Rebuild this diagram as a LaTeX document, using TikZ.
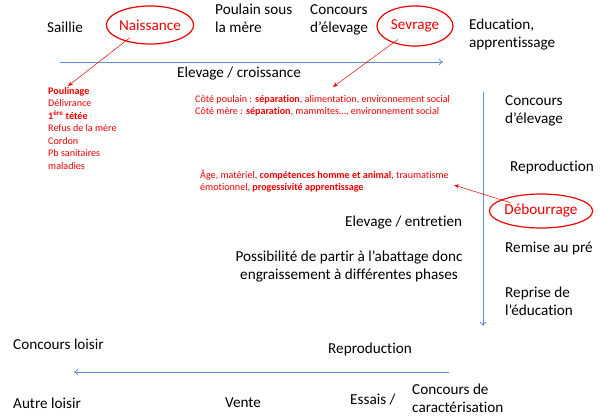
\documentclass[tikz,border=0pt]{standalone}
\usepackage{fontspec}
\setmainfont[Ligatures=NoCommon]{Carlito}
\usetikzlibrary{arrows.meta,shapes.geometric}
\definecolor{lblue}{RGB}{91,145,210}
\definecolor{myred}{RGB}{240,0,0}
\tikzset{
  txt/.style={font=\fontsize{15.2}{18}\selectfont, inner sep=0pt, anchor=west, align=left},
  rtxt/.style={font=\fontsize{10.1}{12.5}\selectfont, text=myred, inner sep=0pt, anchor=west, align=left},
  stage/.style={ellipse, draw=myred, line width=1.2pt, text=myred, font=\fontsize{15.2}{18}\selectfont, inner sep=0pt},
  redarrow/.style={draw=myred, line width=0.5pt, -{Stealth[length=5pt,width=4pt]}},
  bluearrow/.style={draw=lblue, line width=0.8pt, -{To[length=4pt,width=6pt]}}
}
\begin{document}
\begin{tikzpicture}[x=1pt,y=-1pt]
\useasboundingbox (0,0) rectangle (601,417);
% top row
\node[txt] (saillie) at (47,27) {Saillie};
\node[stage, minimum width=76pt, minimum height=38pt] (naissance) at (150,25) {Naissance};
\node[txt, anchor=north west] (poulain) at (215,4) {Poulain sous\\la mère};
\node[txt, anchor=north west] (concelev1) at (310,4) {Concours\\d’élevage};
\node[stage, minimum width=76pt, minimum height=40pt] (sevrage) at (415,26) {Sevrage};
\node[txt, anchor=north west] (educ) at (469,19) {Education,\\apprentissage};
% top blue arrow
\coordinate (h1s) at (60,62);
\coordinate (h1e) at (443,62);
\draw[bluearrow] (h1s) -- (h1e);
\node[txt, anchor=center] (elevcroiss) at (239,74) {Elevage / croissance};
% red lists
\node[rtxt, anchor=north west] (liste1) at (48,87) {\textbf{Poulinage}\\Délivrance\\\textbf{1\textsuperscript{ère} tétée}\\Refus de la mère\\Cordon\\Pb sanitaires\\maladies};
\node[rtxt, anchor=north west] (liste2) at (195,95) {Côté poulain : \textbf{séparation}, alimentation, environnement social\\Côté mère : \textbf{séparation}, mammites…, environnement social};
\node[rtxt, anchor=north west] (liste3) at (200,170) {Âge, matériel, \textbf{compétences homme et animal}, traumatisme\\émotionnel, \textbf{progessivité apprentissage}};
\coordinate (a1e) at (68,86);
\coordinate (a2e) at (333,87);
\coordinate (a3e) at (454,185);
\draw[redarrow] (naissance.south west) ++(11,-1) -- (a1e);
\draw[redarrow] (sevrage.south west) ++(10,-1) -- (a2e);
% right column
\coordinate (v1s) at (483,92);
\coordinate (v1e) at (483,326);
\draw[bluearrow] (v1s) -- (v1e);
\node[txt, anchor=north west] (concelev2) at (505,95) {Concours\\d’élevage};
\node[txt] (repro1) at (510,167) {Reproduction};
\node[stage, minimum width=95pt, minimum height=34pt] (debourrage) at (541,211) {Débourrage};
\draw[redarrow] (debourrage.north west) ++(6,4) -- (a3e);
\node[txt] (remise) at (505,248) {Remise au pré};
\node[txt, anchor=north west] (reprise) at (505,287) {Reprise de\\l’éducation};
% middle
\node[txt] (elevent) at (345,223) {Elevage / entretien};
\node[txt, anchor=north, align=center] (abattage) at (349,251) {Possibilité de partir à l’abattage donc\\engraissement à différentes phases};
% bottom
\node[txt] (concloisir) at (13,344) {Concours loisir};
\node[txt] (repro2) at (328,349) {Reproduction};
\coordinate (h2s) at (449,372);
\coordinate (h2e) at (74,372);
\draw[bluearrow] (h2s) -- (h2e);
\node[txt] (autre) at (13,403) {Autre loisir};
\node[txt] (vente) at (225,403) {Vente};
\node[txt] (essais) at (350,400) {Essais /};
\node[txt, anchor=north west] (conccar) at (412,384) {Concours de\\caractérisation};
\end{tikzpicture}
\end{document}
